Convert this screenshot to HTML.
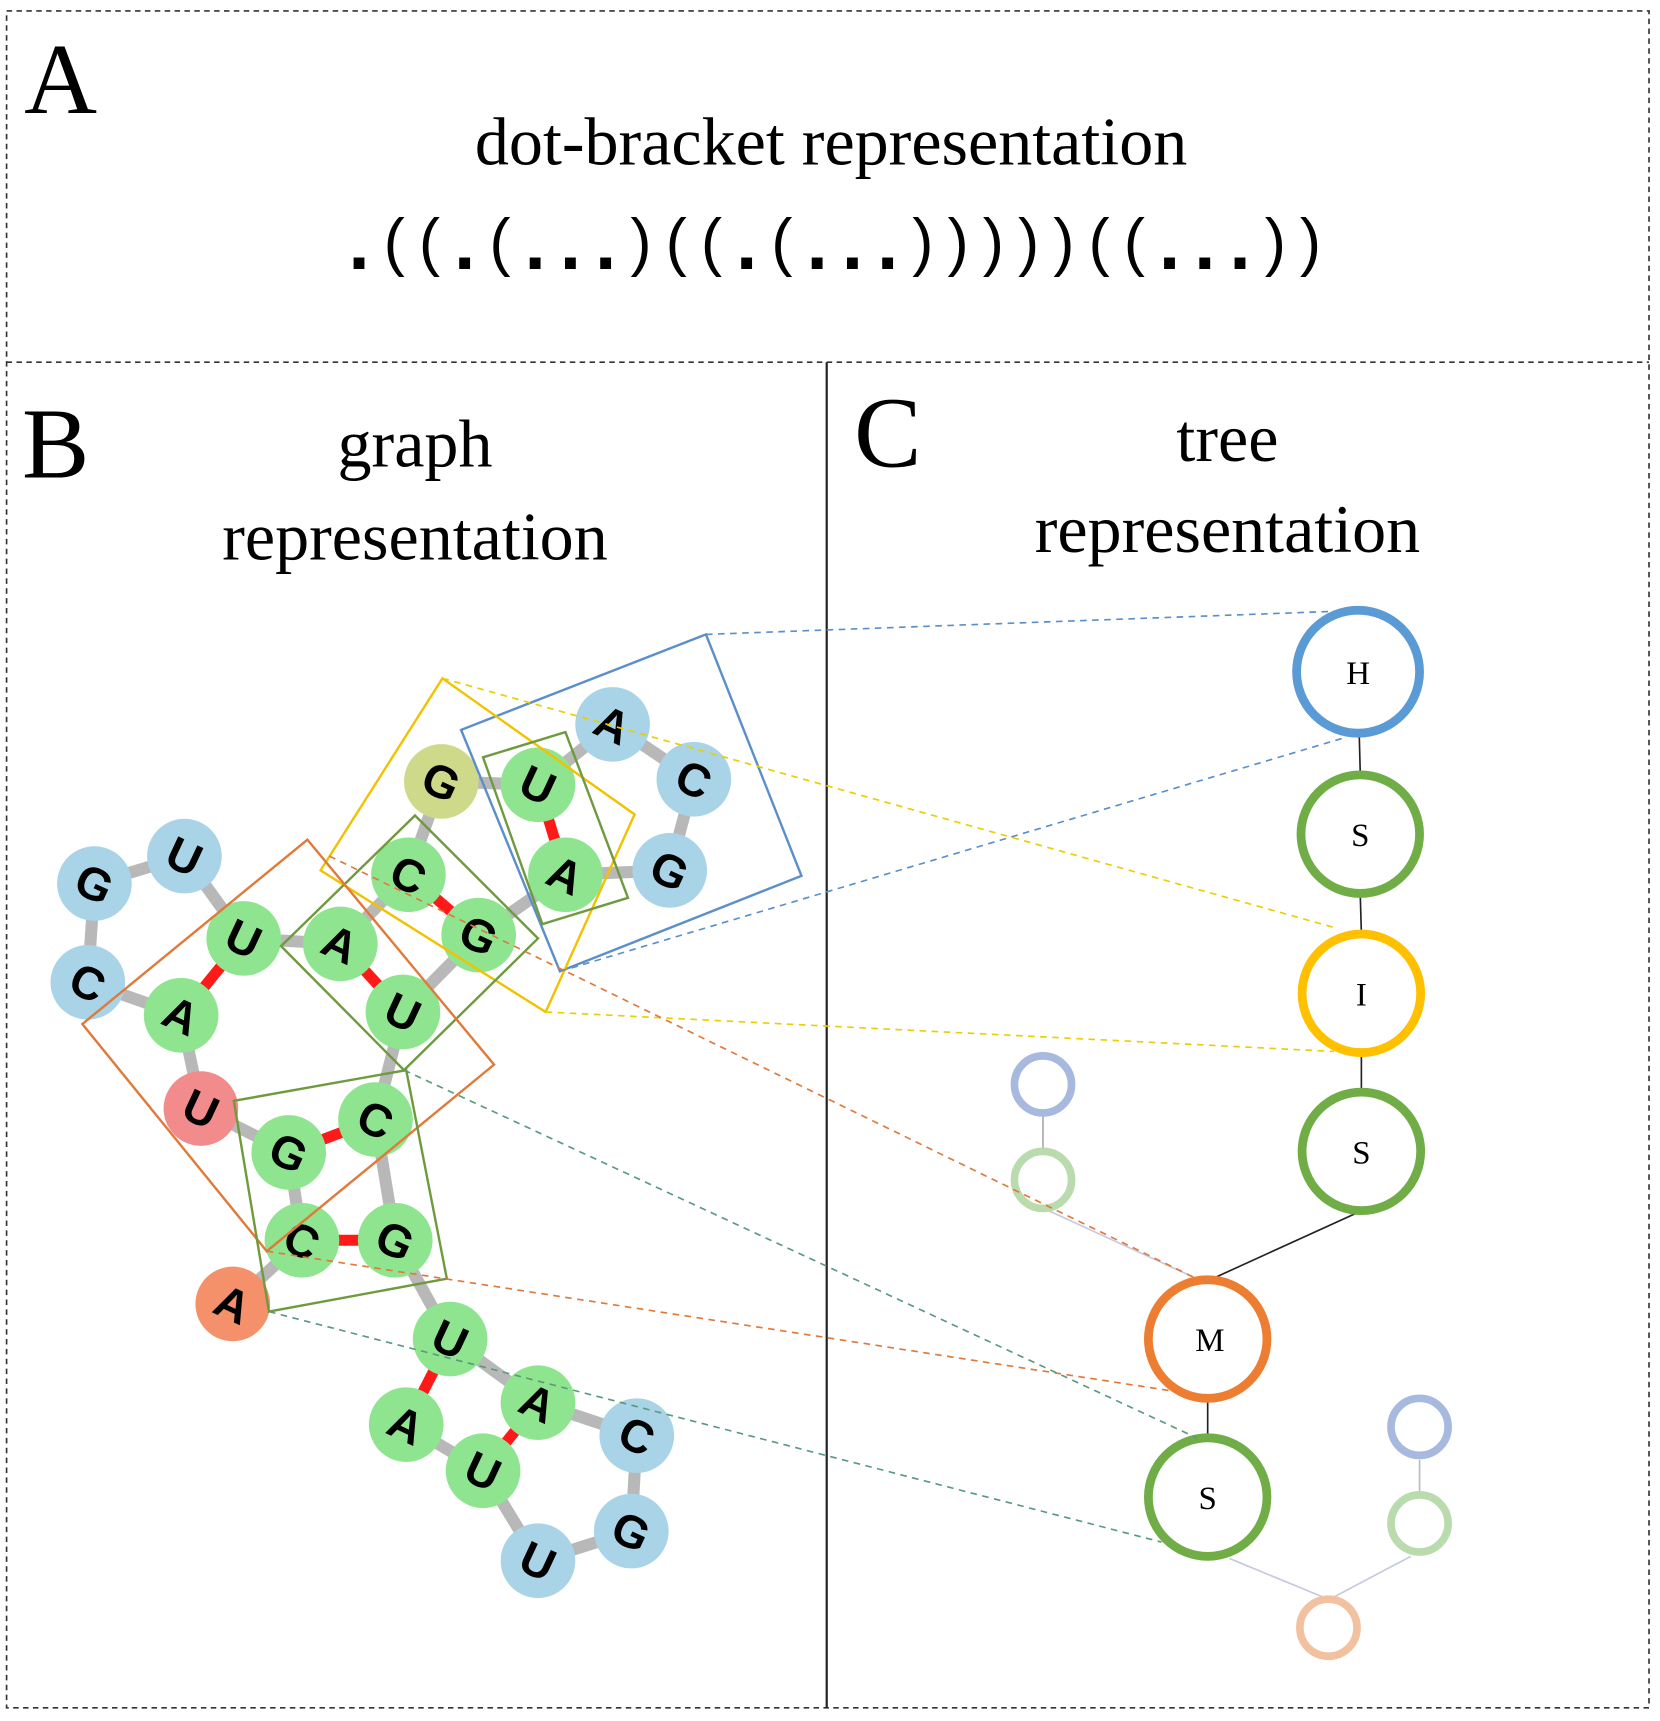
<!DOCTYPE html>
<html><head><meta charset="utf-8"><style>
html,body{margin:0;padding:0;background:#fff;}
svg{display:block;}
</style></head><body>
<svg width="1660" height="1721" viewBox="0 0 1512 1568" preserveAspectRatio="none" xmlns="http://www.w3.org/2000/svg">
<rect width="1512" height="1568" fill="#fff"/>
<!-- panel borders -->
<rect x="6" y="10" width="1496" height="1546" fill="none" stroke="#333" stroke-width="1.5" stroke-dasharray="5,4"/>
<line x1="6" y1="330" x2="1502" y2="330" stroke="#333" stroke-width="1.5" stroke-dasharray="5,4"/>
<line x1="753" y1="330" x2="753" y2="1556" stroke="#222" stroke-width="2"/>

<g font-family="Liberation Serif, serif" fill="#000">
<text x="22" y="103" font-size="92">A</text>
<text x="757" y="150" font-size="62" text-anchor="middle">dot-bracket representation</text>
<text x="20" y="435" font-size="92">B</text>
<text x="378" y="425" font-size="62" text-anchor="middle">graph</text>
<text x="378" y="510" font-size="62" text-anchor="middle">representation</text>
<text x="778" y="425" font-size="92">C</text>
<text x="1118" y="420" font-size="62" text-anchor="middle">tree</text>
<text x="1118" y="503" font-size="62" text-anchor="middle">representation</text>
</g>
<g font-family="Liberation Sans, sans-serif" font-size="58" text-anchor="middle" fill="#000" id="db"></g>

<!-- tree faint lines -->
<g stroke-width="1.5">
<line x1="950" y1="1016" x2="950" y2="1048" stroke="#aaa"/>
<line x1="955" y1="1103" x2="1090" y2="1165" stroke="#c8c8e0"/>
<line x1="1120" y1="1420" x2="1205" y2="1455" stroke="#c8c8e0"/>
<line x1="1293" y1="1330" x2="1293" y2="1362" stroke="#bbb"/>
<line x1="1285" y1="1418" x2="1215" y2="1455" stroke="#c8c8e0"/>
</g>
<g stroke="#222" stroke-width="1.5">
<line x1="1238" y1="668" x2="1239" y2="705"/>
<line x1="1239" y1="816" x2="1240" y2="850"/>
<line x1="1240" y1="960" x2="1240" y2="995"/>
<line x1="1236" y1="1105" x2="1100" y2="1167"/>
<line x1="1100" y1="1275" x2="1100" y2="1308"/>
</g>
<g fill="#fff" stroke-width="8">
<circle cx="950" cy="988" r="26" stroke="#a7b9de" stroke-width="7"/>
<circle cx="950" cy="1075" r="26" stroke="#b9dbad" stroke-width="7"/>
<circle cx="1293" cy="1300" r="26" stroke="#a7b9de" stroke-width="7"/>
<circle cx="1293" cy="1388" r="26" stroke="#b9dbad" stroke-width="7"/>
<circle cx="1210" cy="1483" r="26" stroke="#f2c2a0" stroke-width="7"/>
<circle cx="1237" cy="612" r="56" stroke="#5b9bd5"/>
<circle cx="1239" cy="760" r="54" stroke="#70ad47"/>
<circle cx="1240" cy="905" r="54" stroke="#ffc000"/>
<circle cx="1240" cy="1049" r="54" stroke="#70ad47"/>
<circle cx="1100" cy="1220" r="54" stroke="#ed7d31"/>
<circle cx="1100" cy="1364" r="54" stroke="#70ad47"/>
</g>
<g font-family="Liberation Serif, serif" font-size="30" text-anchor="middle" fill="#000">
<text x="1237" y="623">H</text>
<text x="1239" y="771">S</text>
<text x="1240" y="916">I</text>
<text x="1240" y="1060">S</text>
<text x="1102" y="1231">M</text>
<text x="1100" y="1375">S</text>
</g>

<!-- backbone -->
<g stroke="#b8b8b8" stroke-width="11" stroke-linecap="round" fill="none">
<polyline points="212,1188 275,1130 263,1050 183,1010 165,925 80,895 86,805 168,780 222,855 310,860 372,797 402,712 490,715 558,660 632,710 610,793 515,797 436,852 367,922 342,1020 360,1130 410,1220 490,1278 580,1308 575,1395 490,1422 440,1340 370,1298"/>
</g>
<g stroke="#ff1a1a" stroke-width="10">
<line x1="222" y1="855" x2="165" y2="925"/>
<line x1="310" y1="860" x2="367" y2="922"/>
<line x1="372" y1="797" x2="436" y2="852"/>
<line x1="490" y1="715" x2="515" y2="797"/>
<line x1="263" y1="1050" x2="342" y2="1020"/>
<line x1="275" y1="1130" x2="360" y2="1130"/>
<line x1="410" y1="1220" x2="370" y2="1298"/>
<line x1="490" y1="1278" x2="440" y2="1340"/>
</g>
<g id="nodes"></g>

<!-- boxes -->
<g fill="none" stroke-width="2.2">
<polygon points="643,578 730,798 510,885 420,665" stroke="#5b8fca"/>
<polygon points="403,618 578,742 497,922 292,793" stroke="#f2c200"/>
<polygon points="440,690 515,667 572,818 494,842" stroke="#6f9a3e"/>
<polygon points="256,862 378,743 490,855 368,975" stroke="#6f9a3e"/>
<polygon points="75,933 280,765 450,970 243,1140" stroke="#e07a3a"/>
<polygon points="213,1003 370,975 407,1165 245,1195" stroke="#6f9a3e"/>
</g>

<!-- dashed connectors -->
<g fill="none" stroke-width="1.5" stroke-dasharray="6,5">
<line x1="643" y1="578" x2="1215" y2="557" stroke="#5b8fca"/>
<line x1="510" y1="885" x2="1225" y2="672" stroke="#5b8fca"/>
<line x1="403" y1="618" x2="1215" y2="845" stroke="#e8d000"/>
<line x1="497" y1="922" x2="1215" y2="958" stroke="#e8d000"/>
<line x1="300" y1="780" x2="1090" y2="1165" stroke="#e0783a"/>
<line x1="243" y1="1140" x2="1072" y2="1268" stroke="#e0783a"/>
<line x1="368" y1="975" x2="1090" y2="1310" stroke="#5a9a7a"/>
<line x1="245" y1="1195" x2="1058" y2="1405" stroke="#5a9a7a"/>
</g>
</svg>
<script>
(function(){
var NS="http://www.w3.org/2000/svg";
var s=".((.(...)((.(...)))))((...))";
var g=document.getElementById("db");
for(var i=0;i<s.length;i++){
 var t=document.createElementNS(NS,"text");
 var x=327+i*32.1;
 t.setAttribute("x",x);
 if(s[i]=="."){t.setAttribute("y",245);t.setAttribute("font-weight","bold");t.setAttribute("font-size","70");}
 else{t.setAttribute("y",240);}
 t.textContent=s[i];g.appendChild(t);
}
var B="#a9d3e6",G="#8fe58f",Y="#cfd98a",R="#f28b8b",O="#f4916a";
var N=[[212,1188,"A",O],[275,1130,"C",G],[263,1050,"G",G],[183,1010,"U",R],[165,925,"A",G],[80,895,"C",B],[86,805,"G",B],[168,780,"U",B],[222,855,"U",G],[310,860,"A",G],[372,797,"C",G],[402,712,"G",Y],[490,715,"U",G],[558,660,"A",B],[632,710,"C",B],[610,793,"G",B],[515,797,"A",G],[436,852,"G",G],[367,922,"U",G],[342,1020,"C",G],[360,1130,"G",G],[410,1220,"U",G],[490,1278,"A",G],[580,1308,"C",B],[575,1395,"G",B],[490,1422,"U",B],[440,1340,"U",G],[370,1298,"A",G]];
var ng=document.getElementById("nodes");
N.forEach(function(n){
 var c=document.createElementNS(NS,"circle");
 c.setAttribute("cx",n[0]);c.setAttribute("cy",n[1]);c.setAttribute("r",34);c.setAttribute("fill",n[3]);
 ng.appendChild(c);
 var t=document.createElementNS(NS,"text");
 t.setAttribute("x",n[0]);t.setAttribute("y",n[1]+15);
 t.setAttribute("text-anchor","middle");t.setAttribute("font-family","Liberation Sans, sans-serif");
 t.setAttribute("font-weight","bold");t.setAttribute("font-size","42");
 t.setAttribute("transform","rotate(25 "+n[0]+" "+n[1]+")");
 t.textContent=n[2];ng.appendChild(t);
});
})();
</script>
</body></html>
